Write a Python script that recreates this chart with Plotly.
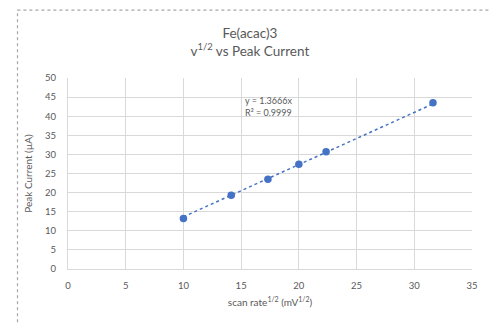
import plotly.graph_objects as go

scan_rate_sqrt = [10.0, 14.14, 17.32, 20.0, 22.36, 31.62]
peak_current = [13.2, 19.3, 23.5, 27.4, 30.7, 43.5]
slope = 1.3666
r2 = 0.9999

trend_x = [min(scan_rate_sqrt), max(scan_rate_sqrt)]
trend_y = [slope * v for v in trend_x]

gray = "#595959"
grid = "#d9d9d9"
blue = "#4472C4"
font = "Lato, 'Open Sans', sans-serif"

fig = go.Figure()
fig.add_trace(go.Scatter(x=trend_x, y=trend_y, mode="lines",
                         line=dict(color=blue, width=1.5, dash="dot"),
                         hoverinfo="skip", showlegend=False))
fig.add_trace(go.Scatter(x=scan_rate_sqrt, y=peak_current, mode="markers",
                         marker=dict(color=blue, size=7.5), showlegend=False))

fig.update_layout(
    width=490, height=324,
    margin=dict(l=68, r=15, t=78, b=55),
    paper_bgcolor="white", plot_bgcolor="white",
    font=dict(family=font, color=gray, size=10),
    title=dict(text="Fe(acac)3<br>v<sup>1/2</sup> vs Peak Current",
               x=0.51, xanchor="center", y=0.882, yanchor="top",
               font=dict(size=13.5, color=gray, family=font)),
    xaxis=dict(range=[0, 35], dtick=5, showgrid=True, gridcolor=grid, gridwidth=1,
               zeroline=False, showline=True, linecolor=grid, mirror=False,
               ticks="", ticklabelstandoff=8, tickfont=dict(size=9.5, color=gray),
               title=dict(text="scan rate<sup>1/2</sup> (mV<sup>1/2</sup>)",
                          font=dict(size=10, color=gray), standoff=8)),
    yaxis=dict(range=[0, 50], dtick=5, showgrid=True, gridcolor=grid, gridwidth=1,
               zeroline=False, showline=True, linecolor=grid,
               ticks="", ticklabelstandoff=9, tickfont=dict(size=9.5, color=gray),
               title=dict(text="Peak Current (µA)", font=dict(size=10, color=gray), standoff=10)),
    annotations=[dict(text=f"y = {slope}x<br>R² = {r2}", x=15.2, y=42.5,
                      xref="x", yref="y", xanchor="left", yanchor="middle",
                      showarrow=False, align="left",
                      font=dict(size=9, color=gray, family=font))],
    shapes=[dict(type="rect", xref="paper", yref="paper",
                 x0=-0.125, x1=1.2, y0=-0.5, y1=1.355,
                 line=dict(color="#a6a6a6", width=1.2, dash="dot"))],
)

fig.write_html("out.html")
